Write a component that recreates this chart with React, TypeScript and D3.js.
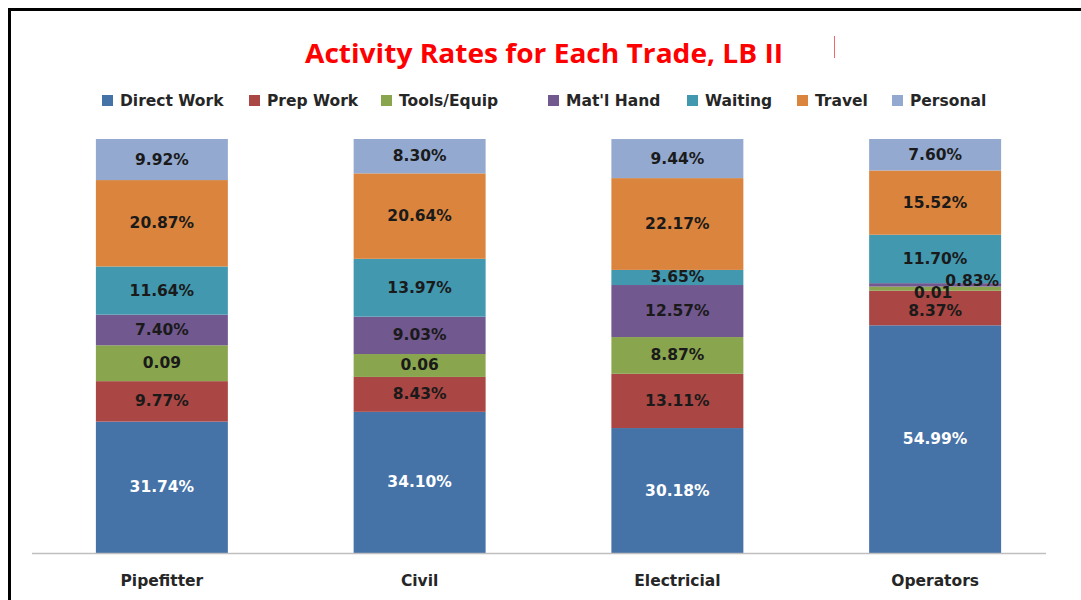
import React from "react";
import * as d3 from "d3";

const categories = ["Pipefitter", "Civil", "Electricial", "Operators"];
const seriesNames = ["Direct Work", "Prep Work", "Tools/Equip", "Mat'l Hand", "Waiting", "Travel", "Personal"];

const directWork = [31.74, 34.1, 30.18, 54.99];
const prepWork = [9.77, 8.43, 13.11, 8.37];
const toolsEquip = [8.66, 5.53, 8.87, 0.99];
const matlHand = [7.4, 9.03, 12.57, 0.83];
const waiting = [11.64, 13.97, 3.65, 11.7];
const travel = [20.87, 20.64, 22.17, 15.52];
const personal = [9.92, 8.3, 9.44, 7.6];

const toolsLabels = ["0.09", "0.06", "8.87%", "0.01"];

const colors = ["#4572A7", "#AA4643", "#89A54E", "#71588F", "#4198AF", "#DB843D", "#93A9CF"];

const W = 1081;
const H = 600;
const legendX = [102, 249, 381, 548, 687, 797, 892];

export default function App() {
  const seriesValues = [directWork, prepWork, toolsEquip, matlHand, waiting, travel, personal];
  const rows = categories.map((c, i) => {
    const r: any = { cat: c };
    seriesNames.forEach((s, j) => (r[s] = seriesValues[j][i]));
    return r;
  });
  const stack = d3.stack<any>().keys(seriesNames)(rows);

  const x = d3.scaleBand<string>().domain(categories).range([33, 1064]).paddingInner(0.488).paddingOuter(0.244);
  const y = d3.scaleLinear().domain([0, 100]).range([553, 139]);

  const labelFor = (si: number, ci: number) => {
    if (si === 2) return toolsLabels[ci];
    return seriesValues[si][ci].toFixed(2) + "%";
  };
  const offset = (si: number, ci: number): [number, number] => {
    if (ci === 3 && si === 3) return [37, -4];
    if (ci === 3 && si === 2) return [-2, 4];
    if (ci === 3 && si === 1) return [0, 3];
    return [0, 0];
  };

  const font = "'DejaVu Sans', Verdana, sans-serif";

  return (
    <svg width={W} height={H} style={{ position: "absolute", left: 0, top: 0, background: "#fff" }}>
      <rect x={0} y={0} width={W} height={H} fill="#fff" />
      <path d={`M9.5,${H} L9.5,9.5 L${W},9.5`} fill="none" stroke="#000" strokeWidth={3} />
      <line x1={834.5} x2={834.5} y1={36} y2={58} stroke="#f06a6a" strokeWidth={1} />
      <text
        x={544}
        y={63}
        textAnchor="middle"
        fill="#ff0000"
        fontFamily="'Liberation Sans Narrow', 'Open Sans', sans-serif"
        fontWeight="bold"
        fontSize={27}
        textLength={478}
        lengthAdjust="spacingAndGlyphs"
      >
        Activity Rates for Each Trade, LB II
      </text>
      {seriesNames.map((s, i) => (
        <g key={s}>
          <rect x={legendX[i]} y={95} width={11} height={11} fill={colors[i]} />
          <text x={legendX[i] + 18} y={100.5} dominantBaseline="central" fontFamily={font} fontWeight="bold" fontSize={15.5} fill="#262626">
            {s}
          </text>
        </g>
      ))}
      {stack.map((layer, si) => (
        <g key={seriesNames[si]} fill={colors[si]}>
          {layer.map((d, ci) => (
            <rect key={ci} x={x(categories[ci])} y={y(d[1])} width={x.bandwidth()} height={y(d[0]) - y(d[1])} />
          ))}
        </g>
      ))}
      <line x1={32} x2={1046} y1={553.5} y2={553.5} stroke="#bfbfbf" strokeWidth={1.5} />
      {stack.map((layer, si) => (
        <g key={"l" + si}>
          {layer.map((d, ci) => {
            const [dx, dy] = offset(si, ci);
            return (
              <text
                key={ci}
                x={(x(categories[ci]) as number) + x.bandwidth() / 2 + dx}
                y={(y(d[0]) + y(d[1])) / 2 + dy}
                textAnchor="middle"
                dominantBaseline="central"
                fontFamily={font}
                fontWeight="bold"
                fontSize={15.5}
                fill={si === 0 ? "#ffffff" : "#1a1a1a"}
              >
                {labelFor(si, ci)}
              </text>
            );
          })}
        </g>
      ))}
      {categories.map((c) => (
        <text
          key={c}
          x={(x(c) as number) + x.bandwidth() / 2}
          y={586}
          textAnchor="middle"
          fontFamily={font}
          fontWeight="bold"
          fontSize={15.5}
          fill="#262626"
        >
          {c}
        </text>
      ))}
    </svg>
  );
}
